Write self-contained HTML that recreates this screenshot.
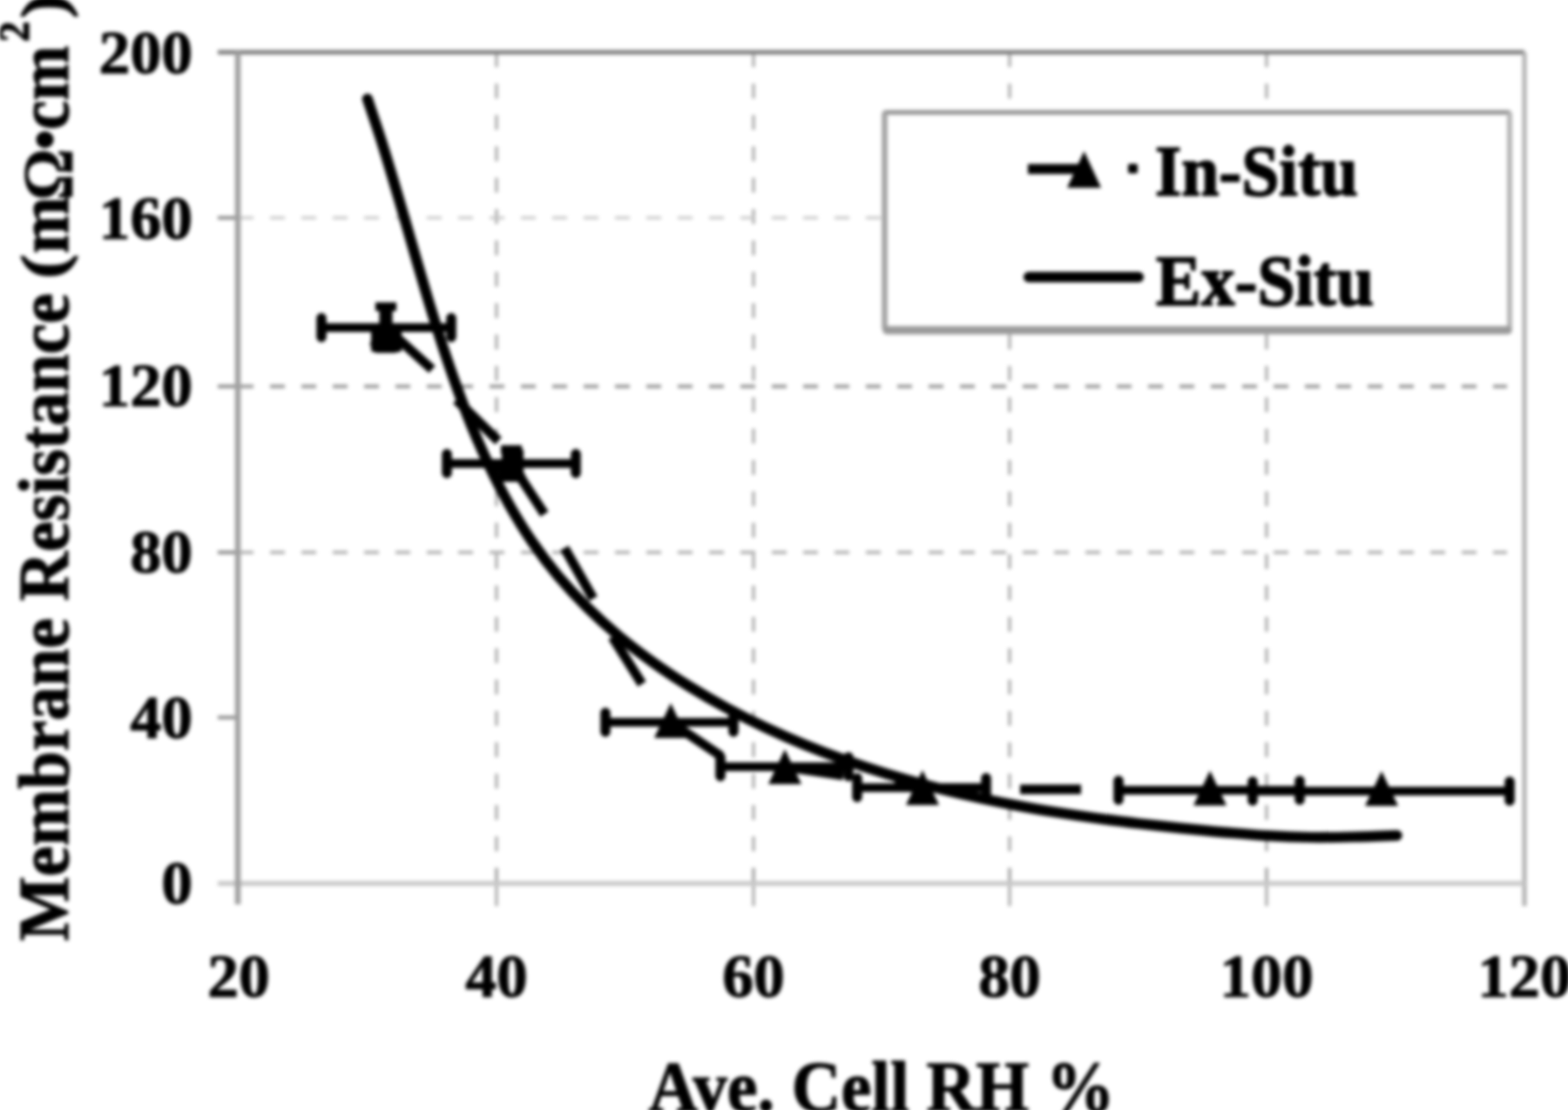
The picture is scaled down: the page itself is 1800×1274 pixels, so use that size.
<!DOCTYPE html>
<html lang="en"><head><meta charset="utf-8"><title>Membrane Resistance</title>
<style>html,body{margin:0;padding:0;background:#fff;}body{width:1800px;height:1274px;overflow:hidden;position:relative;}svg{display:block;position:absolute;left:-20px;top:-20px;filter:blur(2.0px);}text{font-family:"Liberation Serif","DejaVu Serif",serif;font-weight:bold;fill:#000;stroke:#000;stroke-width:1.2;stroke-linejoin:round;}</style>
</head><body>
<svg width="1840" height="1314" viewBox="-20 -20 1840 1314">
<rect x="-20" y="-20" width="1840" height="1314" fill="#fff"/>
<g stroke="#9c9c9c" stroke-width="2.8" stroke-dasharray="17 19" fill="none">
<line x1="570" y1="60" x2="570" y2="1014"/>
<line x1="865" y1="60" x2="865" y2="1014"/>
<line x1="1159" y1="60" x2="1159" y2="1014"/>
<line x1="1454" y1="60" x2="1454" y2="1014"/>
</g>
<g stroke-dasharray="17 19" fill="none">
<line x1="274" y1="250" x2="1730" y2="250" stroke="#c4c4c4" stroke-width="3.2"/>
<line x1="274" y1="443.5" x2="1730" y2="443.5" stroke="#989898" stroke-width="4.2"/>
<line x1="274" y1="634" x2="1730" y2="634" stroke="#acacac" stroke-width="3.6"/>
</g>
<g stroke="#8c8c8c" stroke-width="4" fill="none">
<line x1="250" y1="250" x2="274" y2="250"/>
<line x1="250" y1="443.5" x2="274" y2="443.5"/>
<line x1="250" y1="634" x2="274" y2="634"/>
<line x1="250" y1="823.5" x2="274" y2="823.5"/>
</g>
<g stroke="#9c9c9c" stroke-width="2.8" fill="none">
<line x1="570" y1="996" x2="570" y2="1040"/>
<line x1="865" y1="996" x2="865" y2="1040"/>
<line x1="1159" y1="996" x2="1159" y2="1040"/>
<line x1="1454" y1="996" x2="1454" y2="1040"/>
</g>
<g fill="none">
<line x1="250" y1="60" x2="1750" y2="60" stroke="#7c7c7c" stroke-width="5"/>
<line x1="1750" y1="60" x2="1750" y2="1040" stroke="#b0b0b0" stroke-width="5"/>
<line x1="250" y1="1014" x2="1750" y2="1014" stroke="#c8c8c8" stroke-width="5.5"/>
<line x1="273" y1="60" x2="273" y2="1038" stroke="#a0a0a0" stroke-width="6.5"/>
</g>
<rect x="1015" y="129" width="718" height="250" rx="4" fill="#fff"/>
<g fill="none" stroke-linecap="round">
<line x1="1016" y1="129" x2="1732" y2="129" stroke="#8e8e8e" stroke-width="5"/>
<line x1="1015.5" y1="131" x2="1015.5" y2="376" stroke="#a2a2a2" stroke-width="6.5"/>
<line x1="1733" y1="131" x2="1733" y2="376" stroke="#b4b4b4" stroke-width="6"/>
<line x1="1018" y1="379" x2="1731" y2="379" stroke="#9a9a9a" stroke-width="9.5"/>
</g>
<path d="M421.8,113.5 C424.4,121.3 432.4,144.7 437.4,160.4 C442.4,176.1 447.1,191.9 451.8,207.7 C456.5,223.5 461.1,239.4 465.7,255.2 C470.3,271.0 474.8,286.9 479.4,302.7 C484.0,318.5 488.6,334.4 493.4,350.2 C498.2,366.0 503.1,381.6 508.2,397.3 C513.4,413.0 518.7,428.6 524.3,444.1 C529.9,459.6 535.7,475.1 542.0,490.3 C548.3,505.5 554.9,520.6 562.0,535.5 C569.1,550.4 576.6,565.1 584.7,579.4 C592.8,593.7 601.4,607.9 610.7,621.5 C620.0,635.1 629.9,648.3 640.5,660.9 C651.1,673.5 662.4,685.6 674.1,697.2 C685.8,708.8 698.1,719.9 710.7,730.4 C723.4,740.9 736.6,750.9 750.0,760.5 C763.4,770.1 777.2,779.1 791.2,787.8 C805.2,796.5 819.5,804.7 834.0,812.5 C848.5,820.3 863.3,827.8 878.2,834.8 C893.1,841.8 908.1,848.4 923.4,854.6 C938.6,860.8 954.2,866.7 969.7,872.2 C985.2,877.7 1000.9,882.9 1016.6,887.8 C1032.3,892.6 1048.3,897.1 1064.2,901.3 C1080.1,905.5 1096.1,909.5 1112.2,913.1 C1128.3,916.8 1144.4,920.1 1160.6,923.2 C1176.8,926.3 1193.0,929.2 1209.3,931.8 C1225.6,934.4 1241.9,936.8 1258.2,939.0 C1274.5,941.2 1290.9,943.3 1307.3,945.2 C1323.7,947.1 1340.2,948.9 1356.6,950.6 C1373.0,952.3 1389.5,953.9 1405.9,955.3 C1422.4,956.7 1438.8,958.2 1455.3,959.2 C1471.8,960.2 1488.2,960.8 1504.7,961.0 C1521.2,961.2 1537.6,960.9 1554.1,960.5 C1570.6,960.1 1595.3,959.1 1603.6,958.8" fill="none" stroke="#000" stroke-width="12.2" stroke-linecap="round" stroke-linejoin="round"/>
<g stroke="#000" stroke-width="11" fill="none">
<line x1="443.0" y1="376" x2="496.0" y2="424"/>
<line x1="524.0" y1="459" x2="572.0" y2="506"/>
<line x1="587.0" y1="532" x2="625.0" y2="590"/>
<line x1="648.0" y1="629" x2="681.0" y2="687"/>
<line x1="703.0" y1="731" x2="737.0" y2="785"/>
<line x1="770.0" y1="829" x2="828.0" y2="868"/>
<line x1="901.0" y1="880" x2="968.0" y2="890"/>
<line x1="1027.0" y1="899" x2="1059.0" y2="904"/>
<line x1="1171.0" y1="906" x2="1241.0" y2="906"/>
</g>
<g stroke="#000" stroke-width="10" fill="none">
<line x1="369" y1="376" x2="518" y2="376"/>
<line x1="369" y1="365" x2="369" y2="387" stroke-width="11.5" stroke-linecap="round"/>
<line x1="518" y1="365" x2="518" y2="387" stroke-width="11.5" stroke-linecap="round"/>
<line x1="443" y1="352" x2="443" y2="400"/>
<line x1="431" y1="352" x2="455" y2="352"/>
<line x1="431" y1="400" x2="455" y2="400"/>
<line x1="513" y1="532" x2="661" y2="532"/>
<line x1="513" y1="521" x2="513" y2="543" stroke-width="11.5" stroke-linecap="round"/>
<line x1="661" y1="521" x2="661" y2="543" stroke-width="11.5" stroke-linecap="round"/>
<line x1="587" y1="516" x2="587" y2="548"/>
<line x1="575" y1="516" x2="599" y2="516"/>
<line x1="575" y1="548" x2="599" y2="548"/>
<line x1="695" y1="829" x2="842" y2="829"/>
<line x1="695" y1="818" x2="695" y2="840" stroke-width="11.5" stroke-linecap="round"/>
<line x1="842" y1="818" x2="842" y2="840" stroke-width="11.5" stroke-linecap="round"/>
<line x1="827" y1="880" x2="974" y2="880"/>
<line x1="827" y1="869" x2="827" y2="891" stroke-width="11.5" stroke-linecap="round"/>
<line x1="974" y1="869" x2="974" y2="891" stroke-width="11.5" stroke-linecap="round"/>
<line x1="984" y1="904" x2="1132" y2="904"/>
<line x1="984" y1="893" x2="984" y2="915" stroke-width="11.5" stroke-linecap="round"/>
<line x1="1132" y1="893" x2="1132" y2="915" stroke-width="11.5" stroke-linecap="round"/>
<line x1="1284" y1="907" x2="1492" y2="907"/>
<line x1="1284" y1="896" x2="1284" y2="918" stroke-width="11.5" stroke-linecap="round"/>
<line x1="1492" y1="896" x2="1492" y2="918" stroke-width="11.5" stroke-linecap="round"/>
<line x1="1438" y1="908" x2="1733" y2="908"/>
<line x1="1438" y1="897" x2="1438" y2="919" stroke-width="11.5" stroke-linecap="round"/>
<line x1="1733" y1="897" x2="1733" y2="919" stroke-width="11.5" stroke-linecap="round"/>
</g>
<rect x="426" y="378" width="35" height="26" rx="3" fill="#000"/>
<rect x="435.5" y="352" width="15" height="30" fill="#000"/>
<rect x="576" y="515" width="25" height="30" rx="3" fill="#000"/>
<circle cx="574" cy="538" r="5" fill="#000"/>
<polygon points="443.0,356.0 462.0,396.0 424.0,396.0" fill="#000"/>
<polygon points="587.0,512.0 606.0,552.0 568.0,552.0" fill="#000"/>
<polygon points="770.0,807.0 789.0,847.0 751.0,847.0" fill="#000"/>
<polygon points="901.0,860.0 920.0,900.0 882.0,900.0" fill="#000"/>
<polygon points="1059.0,884.0 1078.0,924.0 1040.0,924.0" fill="#000"/>
<polygon points="1389.0,884.5 1408.0,924.5 1370.0,924.5" fill="#000"/>
<polygon points="1586.0,885.0 1605.0,925.0 1567.0,925.0" fill="#000"/>
<line x1="1180" y1="194" x2="1240" y2="194" stroke="#000" stroke-width="11.5"/>
<polygon points="1244.5,173.5 1264.0,215.5 1225.0,215.5" fill="#000"/>
<rect x="1295" y="188" width="11" height="11" rx="2" fill="#000"/>
<line x1="1181" y1="318" x2="1307" y2="318" stroke="#000" stroke-width="12.2" stroke-linecap="round"/>
<text transform="translate(1326,224) scale(1.0,1.06)" font-size="77.6" text-anchor="start" style="stroke-width:1.8px">In-Situ</text>
<text transform="translate(1327,349.5) scale(1.0,1.06)" font-size="77.6" text-anchor="start" style="stroke-width:1.8px">Ex-Situ</text>
<text transform="translate(221,84) scale(1.0,0.97)" font-size="71.6" text-anchor="end">200</text>
<text transform="translate(221,274) scale(1.0,0.97)" font-size="71.6" text-anchor="end">160</text>
<text transform="translate(221,466) scale(1.0,0.97)" font-size="71.6" text-anchor="end">120</text>
<text transform="translate(221,657) scale(1.0,0.97)" font-size="71.6" text-anchor="end">80</text>
<text transform="translate(221,847) scale(1.0,0.97)" font-size="71.6" text-anchor="end">40</text>
<text transform="translate(221,1037) scale(1.0,0.97)" font-size="71.6" text-anchor="end">0</text>
<text transform="translate(274,1144) scale(1.0,0.97)" font-size="71.6" text-anchor="middle">20</text>
<text transform="translate(570,1144) scale(1.0,0.97)" font-size="71.6" text-anchor="middle">40</text>
<text transform="translate(865,1144) scale(1.0,0.97)" font-size="71.6" text-anchor="middle">60</text>
<text transform="translate(1159,1144) scale(1.0,0.97)" font-size="71.6" text-anchor="middle">80</text>
<text transform="translate(1454,1144) scale(1.0,0.97)" font-size="71.6" text-anchor="middle">100</text>
<text transform="translate(1750,1144) scale(1.0,0.97)" font-size="71.6" text-anchor="middle">120</text>
<text transform="translate(1012,1275) scale(1.0,1.06)" font-size="78.5" text-anchor="middle">Ave. Cell RH %</text>
<text transform="translate(78,1080) rotate(-90) scale(1,1.06)"><tspan x="0.0" y="0.0" font-size="78.5">Membrane Resistance </tspan><tspan x="760.0" y="-3.8" font-size="68.0" textLength="28.3" lengthAdjust="spacingAndGlyphs">(</tspan><tspan x="789.0" y="0.0" font-size="78.5">m</tspan><tspan x="850.0" y="4.7" font-size="78.8" textLength="59.7" lengthAdjust="spacingAndGlyphs" style="stroke-width:0.4px">Ω</tspan><tspan x="908.0" y="-2.8" font-size="66.7">•</tspan><tspan x="931.0" y="0.0" font-size="78.5" textLength="96.7" lengthAdjust="spacingAndGlyphs">cm</tspan><tspan x="1032.0" y="-42.5" font-size="47.1">2</tspan><tspan x="1059.0" y="-3.8" font-size="68.0" textLength="28.3" lengthAdjust="spacingAndGlyphs">)</tspan></text>
</svg></body></html>
